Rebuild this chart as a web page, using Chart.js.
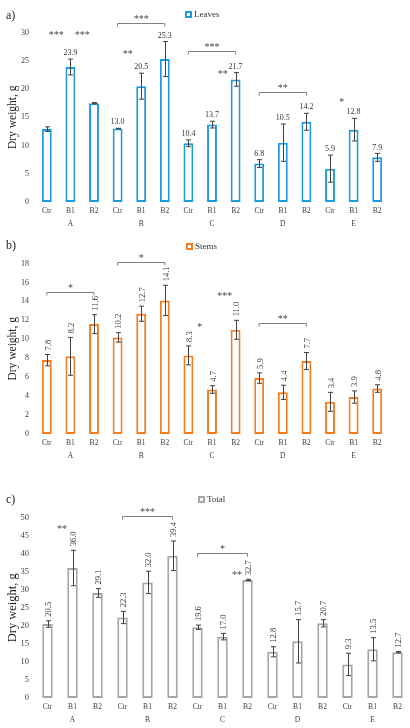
<!DOCTYPE html>
<html lang="en">
<head>
  <meta charset="UTF-8">
  <title>Dry weight of leaves, stems and total</title>
  <script src="https://cdn.jsdelivr.net/npm/chart.js"></script>
  <style>
    body {
      margin: 0;
      background: #fff;
      font-family: 'Liberation Serif', 'Times New Roman', serif;
    }

    .panel {
      position: absolute;
      left: 0;
      width: 410px;
    }

    .tag {
      position: absolute;
      left: 6px;
      font-size: 12px;
      line-height: 12px;
      color: #222;
    }

    .key {
      position: absolute;
      font-size: 9px;
      line-height: 10px;
      color: #333;
      white-space: nowrap;
    }

    .key span {
      display: inline-block;
      box-sizing: border-box;
      width: 7px;
      height: 7px;
      border: 2px solid;
      background: #fff;
      margin-right: 2px;
      vertical-align: -0.5px;
    }
  </style>
</head>
<body>
  <div class="panel" style="top:0;height:232px"><canvas id="leavesChart"></canvas></div>
  <div class="panel" style="top:231px;height:234px"><canvas id="stemsChart"></canvas></div>
  <div class="panel" style="top:465px;height:263px"><canvas id="totalChart"></canvas></div>
  <div class="tag" style="top:9px">a)</div>
  <div class="tag" style="top:239px">b)</div>
  <div class="tag" style="top:493px">c)</div>
  <div class="key" id="leavesKey" style="left:185px;top:9px"></div>
  <div class="key" id="stemsKey" style="left:186px;top:241px"></div>
  <div class="key" id="totalKey" style="left:198px;top:494px"></div>

  <script>
    const treatments = ['Ctr', 'B1', 'B2'];
    const groups = ['A', 'B', 'C', 'D', 'E'];

    const leaves = [12.9, 23.9, 17.5, 13.0, 20.5, 25.3, 10.4, 13.7, 21.7, 6.8, 10.5, 14.2, 5.9, 12.8, 7.9];
    const leavesErr = [0.4, 1.4, 0.1, 0.05, 2.3, 3.1, 0.6, 0.6, 1.2, 0.7, 3.3, 1.5, 2.4, 2.0, 0.7];
    const leavesNoLabel = [0, 2];

    const stems = [7.8, 8.2, 11.6, 10.2, 12.7, 14.1, 8.3, 4.7, 11.0, 5.9, 4.4, 7.7, 3.4, 3.9, 4.8];
    const stemsErr = [0.6, 2.0, 1.0, 0.5, 0.8, 1.6, 1.0, 0.4, 1.0, 0.55, 0.75, 0.9, 1.0, 0.65, 0.4];

    const total = [20.5, 36.0, 29.1, 22.3, 32.0, 39.4, 19.6, 17.0, 32.7, 12.8, 15.7, 20.7, 9.3, 13.5, 12.7];
    const totalErr = [0.9, 4.9, 1.2, 1.7, 3.1, 4.1, 0.6, 0.9, 0.2, 1.4, 6.0, 1.0, 3.1, 3.2, 0.2];

    // significance brackets: [first bar, last bar, height, stars]
    const leavesBrackets = [[3, 5, 31.6, '***'], [6, 8, 26.8, '***'], [9, 11, 19.4, '**']];
    const stemsBrackets = [[0, 2, 14.95, '*'], [3, 5, 18.2, '*'], [9, 11, 11.7, '**']];
    const totalBrackets = [[3, 5, 50.3, '***'], [6, 8, 40.1, '*']];

    // loose stars: [bar position, height, stars]
    const leavesStars = [[0.4, 29.8, '***'], [1.5, 29.8, '***'], [3.43, 26.4, '**'], [7.46, 22.9, '**'], [12.5, 18, '*']];
    const stemsStars = [[6.48, 11.5, '*'], [7.54, 14.7, '***']];
    const totalStars = [[0.58, 47.2, '**'], [7.58, 34.5, '**']];

    const family = "'Liberation Serif', 'Times New Roman', serif";

    const xLabels = [];
    groups.forEach(g => {
      treatments.forEach((t, k) => xLabels.push([t, k === 1 ? g : '']));
    });

    // error bars, value labels and significance marks
    function extras(errs, o) {
      return {
        id: 'extras',
        afterDatasetsDraw(chart) {
          const ctx = chart.ctx;
          const x = chart.scales.x;
          const y = chart.scales.y;
          const values = chart.data.datasets[0].data;
          ctx.save();

          ctx.strokeStyle = '#404040';
          ctx.lineWidth = 1;
          values.forEach((v, i) => {
            const px = Math.round(x.getPixelForValue(i)) + 0.5;
            const top = y.getPixelForValue(v + errs[i]);
            const bot = y.getPixelForValue(v - errs[i]);
            ctx.beginPath();
            ctx.moveTo(px, top);
            ctx.lineTo(px, bot);
            ctx.moveTo(px - 2.5, top);
            ctx.lineTo(px + 2.5, top);
            ctx.moveTo(px - 2.5, bot);
            ctx.lineTo(px + 2.5, bot);
            ctx.stroke();
          });

          ctx.fillStyle = '#333';
          ctx.font = o.labelSize + 'px ' + family;
          values.forEach((v, i) => {
            if (o.noLabel && o.noLabel.includes(i)) return;
            const px = x.getPixelForValue(i);
            const top = y.getPixelForValue(v + errs[i]);
            if (o.rotate) {
              ctx.save();
              ctx.translate(px + 1.5, top - 4);
              ctx.rotate(-Math.PI / 2);
              ctx.textAlign = 'left';
              ctx.textBaseline = 'middle';
              ctx.fillText(v.toFixed(1), 0, 0);
              ctx.restore();
            } else {
              ctx.textAlign = 'center';
              ctx.textBaseline = 'bottom';
              ctx.fillText(v.toFixed(1), px, top - 2);
            }
          });

          ctx.font = '10px ' + family;
          ctx.textAlign = 'center';
          ctx.textBaseline = 'alphabetic';
          o.brackets.forEach(([a, b, h, s]) => {
            const x0 = x.getPixelForValue(a);
            const x1 = x.getPixelForValue(b);
            const py = Math.round(y.getPixelForValue(h)) + 0.5;
            ctx.strokeStyle = '#808080';
            ctx.beginPath();
            ctx.moveTo(x0, py + 3);
            ctx.lineTo(x0, py);
            ctx.lineTo(x1, py);
            ctx.lineTo(x1, py + 3);
            ctx.stroke();
            ctx.fillStyle = '#444';
            ctx.fillText(s, (x0 + x1) / 2, py - 1.5);
          });
          o.stars.forEach(([p, h, s]) => {
            ctx.fillStyle = '#444';
            ctx.fillText(s, x.getPixelForValue(p), y.getPixelForValue(h) + 4.5);
          });

          ctx.restore();
        }
      };
    }

    function makeChart(id, label, values, errs, color, o) {
      const key = document.getElementById(o.key);
      key.innerHTML = '<span></span>' + label;
      key.firstChild.style.borderColor = color;

      const ctx = document.getElementById(id).getContext('2d');
      return new Chart(ctx, {
        type: 'bar',
        data: {
          labels: xLabels,
          datasets: [{
            label: label,
            data: values,
            backgroundColor: '#fff',
            borderColor: color,
            borderWidth: 2,
            borderSkipped: false,
            barPercentage: 0.42,
            categoryPercentage: 1
          }]
        },
        options: {
          responsive: true,
          maintainAspectRatio: false,
          animation: false,
          layout: {
            padding: { top: o.padTop, left: o.padLeft, right: o.padRight, bottom: 0 }
          },
          plugins: {
            legend: { display: false },
            tooltip: { enabled: false }
          },
          scales: {
            x: {
              ticks: {
                font: { family: family, size: 7.5, lineHeight: 1.7 },
                color: '#404040',
                padding: 3,
                maxRotation: 0,
                autoSkip: false
              },
              grid: { display: false, drawTicks: false },
              border: { display: false },
              afterFit: s => { s.height = o.xHeight; }
            },
            y: {
              min: 0,
              max: o.yMax,
              ticks: {
                stepSize: o.step,
                font: { family: family, size: o.tickSize },
                color: '#404040',
                padding: 6
              },
              grid: { display: false, drawTicks: false },
              border: { display: false },
              title: {
                display: true,
                text: 'Dry weight, g',
                font: { family: family, size: o.titleSize },
                color: '#222',
                padding: { top: o.titlePad, bottom: 0 }
              },
              afterFit: s => { s.width = o.yWidth; }
            }
          }
        },
        plugins: [extras(errs, o)]
      });
    }

    makeChart('leavesChart', 'Leaves', leaves, leavesErr, '#1f9ade', {
      key: 'leavesKey',
      yMax: 30, step: 5, padTop: 32.5, padLeft: 11, padRight: 21, yWidth: 24, xHeight: 30,
      tickSize: 8, titleSize: 11.5, titlePad: -5, labelSize: 8,
      noLabel: leavesNoLabel, rotate: false, brackets: leavesBrackets, stars: leavesStars
    });

    makeChart('stemsChart', 'Stems', stems, stemsErr, '#f57d1f', {
      key: 'stemsKey',
      yMax: 18, step: 2, padTop: 32.5, padLeft: 11, padRight: 21, yWidth: 24, xHeight: 31,
      tickSize: 8, titleSize: 11.5, titlePad: -5, labelSize: 8.5,
      rotate: true, brackets: stemsBrackets, stars: stemsStars
    });

    makeChart('totalChart', 'Total', total, totalErr, '#a6a6a6', {
      key: 'totalKey',
      yMax: 50, step: 5, padTop: 52.5, padLeft: 8, padRight: 0, yWidth: 27, xHeight: 30,
      tickSize: 8.5, titleSize: 12.5, titlePad: -2.6, labelSize: 8.5,
      rotate: true, brackets: totalBrackets, stars: totalStars
    });
  </script>
</body>
</html>
